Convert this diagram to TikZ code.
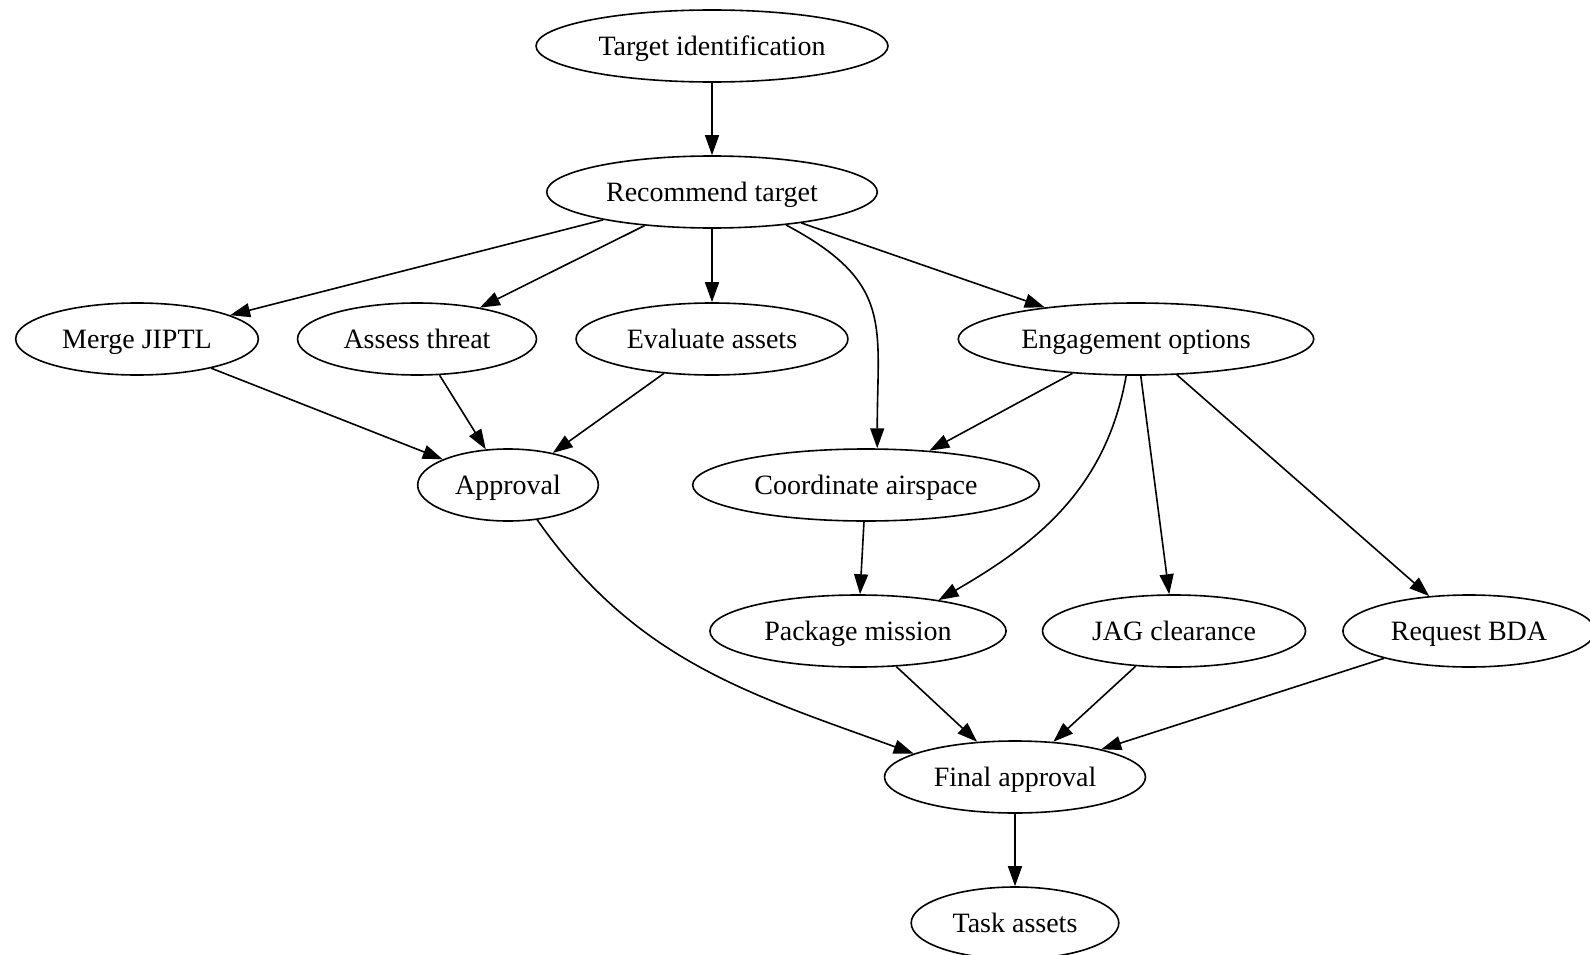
\documentclass[tikz,border=0pt]{standalone}
\usepackage{fontspec}
\setmainfont{Liberation Serif}
\usetikzlibrary{shapes.geometric, arrows.meta}

\begin{document}
\begin{tikzpicture}[x=1pt, y=-1pt,
  stage/.style={ellipse, draw, line width=1.6pt, minimum height=72pt, inner xsep=11pt, text height=22pt, text depth=3pt, font=\fontsize{28}{34}\selectfont},
  flow/.style={-{Triangle[length=20pt, width=14pt]}, line width=1.6pt}
]
  \useasboundingbox (0,0) rectangle (1590,955);

  % stages, top to bottom
  \node[stage] (target) at (712,46) {Target identification};
  \node[stage] (recommend) at (712,192) {Recommend target};
  \node[stage] (merge) at (137,339) {Merge JIPTL};
  \node[stage] (threat) at (417,339) {Assess threat};
  \node[stage] (assets) at (712,339) {Evaluate assets};
  \node[stage] (options) at (1136,339) {Engagement options};
  \node[stage] (approval) at (508,485) {Approval};
  \node[stage] (airspace) at (866,485) {Coordinate airspace};
  \node[stage] (package) at (858,631) {Package mission};
  \node[stage] (jag) at (1174,631) {JAG clearance};
  \node[stage] (bda) at (1469,631) {Request BDA};
  \node[stage] (final) at (1015,777) {Final approval};
  \node[stage] (tasking) at (1015,923) {Task assets};

  % connectors
  \draw[flow] (target) -- (recommend);
  \draw[flow] (recommend) -- (merge);
  \draw[flow] (recommend) -- (threat);
  \draw[flow] (recommend) -- (assets);
  \draw[flow] (recommend.-24) to[out=-28, in=90, looseness=1.3] (airspace.73);
  \draw[flow] (recommend) -- (options);
  \draw[flow] (merge) -- (approval);
  \draw[flow] (threat) -- (approval);
  \draw[flow] (assets) -- (approval);
  \draw[flow] (options) -- (airspace);
  \draw[flow] (options.-105) to[out=-100, in=30] (package.21);
  \draw[flow] (options) -- (jag);
  \draw[flow] (options) -- (bda);
  \draw[flow] (airspace) -- (package);
  \draw[flow] (approval.-50) to[out=-55, in=160] (final.167);
  \draw[flow] (package) -- (final);
  \draw[flow] (jag) -- (final);
  \draw[flow] (bda) -- (final);
  \draw[flow] (final) -- (tasking);
\end{tikzpicture}
\end{document}
